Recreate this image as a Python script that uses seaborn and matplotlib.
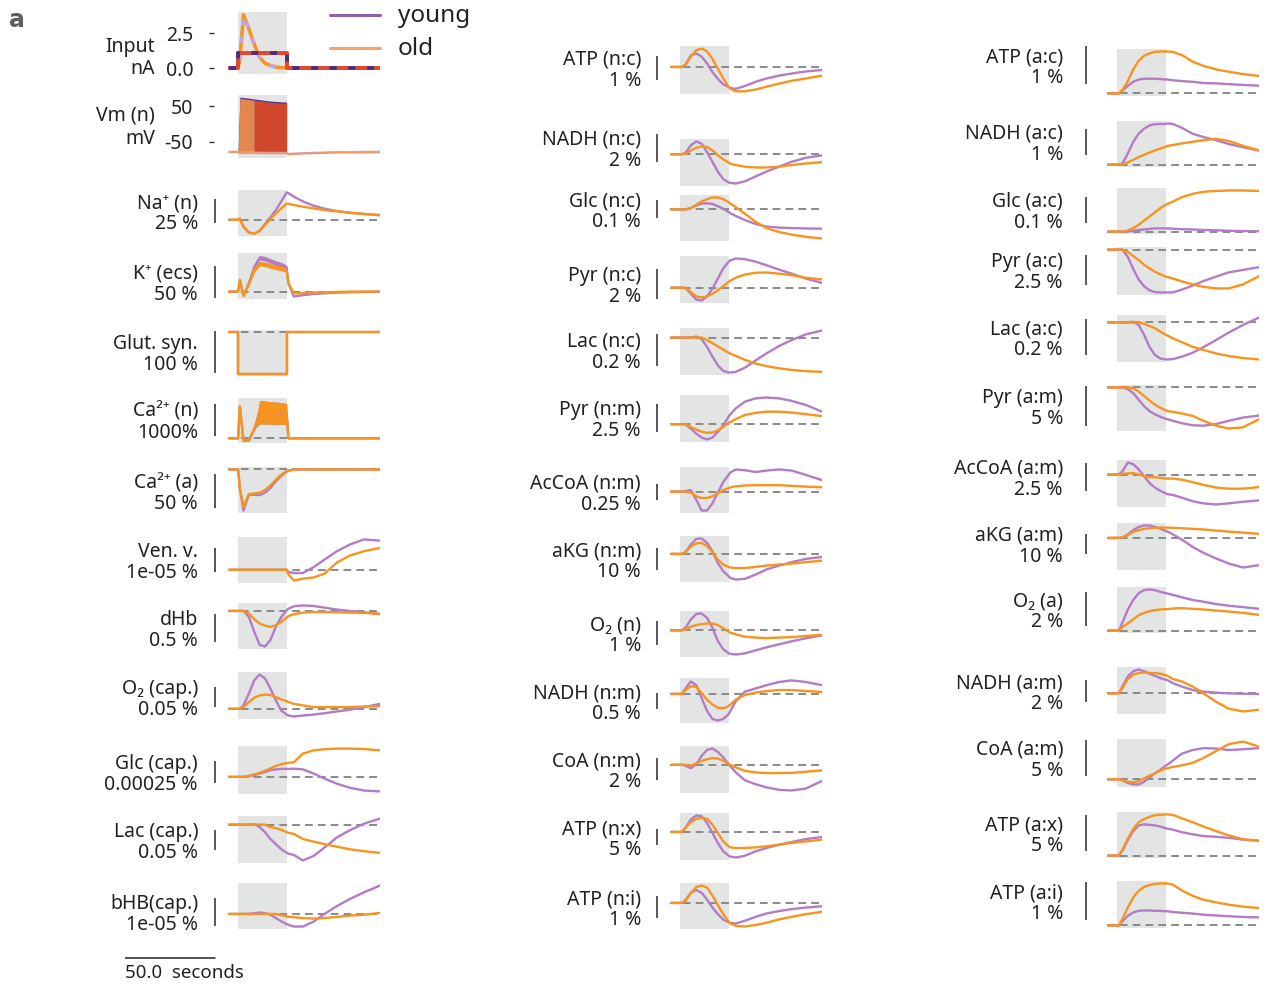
import matplotlib
matplotlib.use("Agg")
import matplotlib.pyplot as plt
import matplotlib.transforms as mtransforms
from matplotlib.lines import Line2D
import seaborn as sns

sns.set_theme(style="white")
plt.rcParams["font.family"] = ["Noto Sans", "DejaVu Sans"]

# ---------------------------------------------------------------- data
# time (s); stimulation window
T = [-5, 0, 1, 3, 6, 9, 12, 15, 18, 21, 24, 27, 28, 31, 36, 42, 48, 55, 62, 70, 79]
STIM = (0, 27)

# Input (nA)
input_pulse = [0, 0, 0.6, 3.8, 2.8, 1.7, 0.75, 0.35, 0.18, 0.08, 0.03, 0.01, 0, 0, 0, 0, 0, 0, 0, 0, 0]
input_step = [0, 1.1, 1.1, 1.1, 1.1, 1.1, 1.1, 1.1, 1.1, 1.1, 1.1, 0, 0, 0, 0, 0, 0, 0, 0, 0, 0]
input_ticks = [0.0, 2.5]

# Vm (mV): envelope of spiking
vm_young_hi = [-77, -77, 76, 75, 73, 71, 69, 67, 65, 64, 63, 62, -83, -82, -81, -80, -79, -78, -78, -77, -77]
vm_young_lo = [-77, -77, -80, -79, -79, -79, -80, -80, -80, -80, -80, -80, -83, -82, -81, -80, -79, -78, -78, -77, -77]
vm_old_hi = [-79, -79, 72, 71, 69, 67, 65, 63, 61, 60, 59, 58, -85, -84, -83, -82, -81, -80, -80, -80, -79]
vm_old_lo = [-79, -79, -82, -81, -81, -81, -82, -82, -82, -82, -82, -82, -85, -84, -83, -82, -81, -80, -80, -80, -79]
vm_ticks = [-50, 50]

# relative changes, in units of each panel's scale bar
na_n_young = [0, 0, 0.05, -0.29, -0.53, -0.57, -0.46, -0.18, 0.10, 0.40, 0.76, 1.13, 1.10, 0.96, 0.76, 0.58, 0.46, 0.36, 0.29, 0.24, 0.19]
na_n_old = [0, 0, 0.05, -0.29, -0.53, -0.57, -0.46, -0.21, 0.03, 0.26, 0.47, 0.67, 0.66, 0.61, 0.54, 0.47, 0.40, 0.35, 0.29, 0.24, 0.19]
k_ecs_young = [0, 0, 0.35, -0.13, 0.25, 0.75, 1.03, 1.0, 0.93, 0.87, 0.82, 0.73, 0.25, -0.15, -0.11, -0.07, -0.05, -0.03, -0.02, -0.01, 0]
k_ecs_old = [0, 0, 0.35, -0.13, 0.22, 0.65, 0.85, 0.83, 0.78, 0.74, 0.70, 0.65, 0.25, -0.05, -0.05, -0.03, -0.02, -0.01, 0, 0, 0]
k_ecs_band = [0, 0, 0, 0, 0.02, 0.06, 0.07, 0.07, 0.07, 0.07, 0.07, 0.07, 0, 0, 0, 0, 0, 0, 0, 0, 0]
glut_young = [0, -1, -1, -1, -1, -1, -1, -1, -1, -1, -1, 0, 0, 0, 0, 0, 0, 0, 0, 0, 0]
glut_old = [0, -1, -1, -1, -1, -1, -1, -1, -1, -1, -1, 0, 0, 0, 0, 0, 0, 0, 0, 0, 0]
ca_n_young = [0, 0, 1.0, -0.07, -0.07, 0.28, 0.82, 0.81, 0.80, 0.79, 0.78, 0.76, 0, 0, 0, 0, 0, 0, 0, 0, 0]
ca_n_old = [0, 0, 1.0, -0.07, -0.06, 0.30, 0.82, 0.81, 0.80, 0.79, 0.78, 0.76, 0, 0, 0, 0, 0, 0, 0, 0, 0]
ca_n_band = [0, 0, 0, 0, 0, 0, 0.37, 0.36, 0.35, 0.35, 0.34, 0.33, 0, 0, 0, 0, 0, 0, 0, 0, 0]
ca_a_young = [0, 0, -0.55, -1.2, -0.74, -0.74, -0.75, -0.68, -0.54, -0.35, -0.19, -0.06, -0.04, 0, 0, 0, 0, 0, 0, 0, 0]
ca_a_old = [0, 0, -0.55, -1.1, -0.72, -0.70, -0.68, -0.60, -0.47, -0.30, -0.15, -0.05, -0.03, 0, 0, 0, 0, 0, 0, 0, 0]
venv_young = [0, 0, 0, 0, 0, 0, 0, 0, 0, 0, 0, 0, -0.10, -0.14, -0.14, 0.11, 0.43, 0.79, 1.07, 1.29, 1.24]
venv_old = [0, 0, 0, 0, 0, 0, 0, 0, 0, 0, 0, 0, -0.2, -0.46, -0.38, -0.33, -0.17, 0.31, 0.6, 0.79, 0.93]
dhb_young = [0, 0, 0, 0, -0.22, -0.76, -1.24, -1.30, -1.06, -0.58, -0.22, 0.02, 0.08, 0.17, 0.20, 0.18, 0.12, 0.05, 0, -0.05, -0.12]
dhb_old = [0, 0, 0, 0, -0.1, -0.3, -0.46, -0.54, -0.58, -0.52, -0.40, -0.24, -0.19, -0.12, -0.06, -0.04, -0.04, -0.05, -0.06, -0.07, -0.1]
o2_cap_young = [0, 0, 0, 0.18, 0.79, 1.49, 1.79, 1.58, 1.05, 0.44, -0.09, -0.30, -0.35, -0.40, -0.35, -0.30, -0.23, -0.14, -0.05, 0.09, 0.26]
o2_cap_old = [0, 0, 0, 0.09, 0.35, 0.58, 0.70, 0.74, 0.72, 0.61, 0.49, 0.40, 0.35, 0.26, 0.18, 0.09, 0.09, 0.09, 0.09, 0.12, 0.14]
glc_cap_young = [0, 0, 0, 0, 0.03, 0.08, 0.15, 0.22, 0.30, 0.34, 0.36, 0.36, 0.36, 0.37, 0.34, 0.15, -0.08, -0.31, -0.49, -0.62, -0.66]
glc_cap_old = [0, 0, 0, 0, 0.05, 0.11, 0.18, 0.28, 0.38, 0.49, 0.58, 0.62, 0.63, 0.66, 1.05, 1.2, 1.25, 1.28, 1.28, 1.26, 1.2]
lac_cap_young = [0, 0, 0, 0, 0, 0.03, -0.12, -0.37, -0.70, -0.95, -1.2, -1.37, -1.42, -1.48, -1.75, -1.53, -1.12, -0.62, -0.28, 0.05, 0.30]
lac_cap_old = [0, 0, 0, 0, 0, 0, 0, 0, -0.12, -0.17, -0.25, -0.37, -0.40, -0.45, -0.70, -0.83, -0.95, -1.08, -1.2, -1.3, -1.38]
bhb_cap_young = [0, 0, 0, 0, 0, 0.03, 0.05, 0.03, -0.03, -0.15, -0.27, -0.37, -0.40, -0.46, -0.46, -0.28, 0.0, 0.29, 0.54, 0.79, 1.04]
bhb_cap_old = [0, 0, 0, 0, 0, 0, 0, 0, 0, 0, -0.04, -0.09, -0.1, -0.12, -0.15, -0.17, -0.15, -0.11, -0.06, -0.03, 0.04]

atp_nc_young = [0, 0, 0, 0.10, 0.49, 0.57, 0.44, 0.15, -0.22, -0.51, -0.74, -0.85, -0.90, -0.93, -0.81, -0.63, -0.49, -0.37, -0.28, -0.19, -0.13]
atp_nc_old = [0, 0, 0, 0.07, 0.44, 0.71, 0.78, 0.66, 0.34, -0.07, -0.49, -0.84, -0.93, -1.03, -1.04, -0.96, -0.84, -0.71, -0.59, -0.49, -0.37]
nadh_nc_young = [0, 0, 0, 0.05, 0.33, 0.47, 0.39, 0.08, -0.28, -0.64, -0.92, -1.04, -1.06, -1.08, -1.0, -0.82, -0.64, -0.46, -0.28, -0.13, -0.04]
nadh_nc_old = [0, 0, 0, 0.02, 0.14, 0.24, 0.29, 0.27, 0.14, -0.04, -0.19, -0.31, -0.35, -0.40, -0.46, -0.49, -0.49, -0.46, -0.40, -0.34, -0.29]
glc_nc_young = [0, 0, 0, 0, 0.08, 0.23, 0.34, 0.36, 0.32, 0.19, 0.04, -0.15, -0.23, -0.38, -0.62, -0.85, -1.0, -1.06, -1.09, -1.11, -1.13]
glc_nc_old = [0, 0, 0, 0, 0.08, 0.28, 0.47, 0.6, 0.7, 0.7, 0.6, 0.42, 0.34, 0.13, -0.25, -0.72, -1.09, -1.32, -1.47, -1.6, -1.7]
pyr_nc_young = [0, 0, 0, -0.01, -0.21, -0.41, -0.44, -0.30, -0.03, 0.31, 0.66, 0.89, 0.94, 1.0, 0.98, 0.89, 0.77, 0.62, 0.48, 0.31, 0.16]
pyr_nc_old = [0, 0, 0, 0, -0.15, -0.30, -0.34, -0.30, -0.21, -0.09, 0.05, 0.2, 0.24, 0.34, 0.45, 0.51, 0.52, 0.48, 0.43, 0.34, 0.28]
lac_nc_young = [0, 0, 0, 0, 0, 0.03, -0.05, -0.30, -0.60, -0.88, -1.05, -1.10, -1.10, -1.08, -0.95, -0.72, -0.50, -0.27, -0.08, 0.10, 0.22]
lac_nc_old = [0, 0, 0, 0, 0, 0, 0, -0.08, -0.18, -0.28, -0.38, -0.48, -0.51, -0.58, -0.70, -0.82, -0.90, -0.97, -1.02, -1.06, -1.08]
pyr_nm_young = [0, 0, 0, 0, -0.16, -0.34, -0.48, -0.55, -0.48, -0.28, -0.04, 0.27, 0.36, 0.57, 0.81, 0.93, 0.96, 0.93, 0.84, 0.69, 0.45]
pyr_nm_old = [0, 0, 0, 0, -0.10, -0.19, -0.27, -0.31, -0.30, -0.22, -0.10, 0.05, 0.08, 0.18, 0.33, 0.41, 0.45, 0.45, 0.42, 0.36, 0.29]
accoa_nm_young = [0, 0, 0, 0.04, 0.09, -0.51, -1.18, -1.18, -0.73, -0.07, 0.6, 1.04, 1.2, 1.38, 1.33, 1.22, 1.31, 1.38, 1.31, 1.04, 0.71]
accoa_nm_old = [0, 0, 0, 0, -0.07, -0.29, -0.4, -0.4, -0.29, -0.11, 0.09, 0.22, 0.27, 0.33, 0.38, 0.40, 0.40, 0.40, 0.36, 0.31, 0.27]
akg_nm_young = [0, 0, 0, 0.08, 0.43, 0.69, 0.71, 0.51, 0.12, -0.42, -0.80, -1.03, -1.11, -1.18, -1.15, -0.95, -0.72, -0.54, -0.38, -0.23, -0.14]
akg_nm_old = [0, 0, 0, 0.08, 0.35, 0.48, 0.51, 0.35, 0.08, -0.26, -0.49, -0.60, -0.63, -0.65, -0.65, -0.60, -0.54, -0.49, -0.45, -0.38, -0.31]
o2_n_young = [0, 0, 0, 0.11, 0.47, 0.71, 0.73, 0.54, 0.11, -0.46, -0.81, -0.99, -1.01, -1.04, -0.99, -0.86, -0.73, -0.60, -0.47, -0.34, -0.21]
o2_n_old = [0, 0, 0, 0.04, 0.16, 0.23, 0.27, 0.3, 0.3, 0.23, 0.09, -0.06, -0.10, -0.17, -0.27, -0.31, -0.33, -0.31, -0.29, -0.24, -0.19]
nadh_nm_young = [0, 0, 0, 0.34, 0.78, 0.54, -0.26, -1.06, -1.56, -1.66, -1.56, -1.26, -1.06, -0.46, 0.14, 0.34, 0.54, 0.74, 0.84, 0.74, 0.54]
nadh_nm_old = [0, 0, 0, 0.24, 0.48, 0.44, 0.04, -0.36, -0.66, -0.86, -0.90, -0.76, -0.66, -0.36, -0.06, 0.08, 0.18, 0.24, 0.24, 0.18, 0.12]
coa_nm_young = [0, 0, 0, -0.04, -0.15, 0.03, 0.40, 0.67, 0.73, 0.58, 0.33, 0.03, -0.07, -0.34, -0.69, -0.87, -1.01, -1.12, -1.15, -1.06, -0.72]
coa_nm_old = [0, 0, 0, 0, -0.04, 0.06, 0.18, 0.25, 0.30, 0.28, 0.18, 0.03, -0.01, -0.12, -0.27, -0.34, -0.37, -0.37, -0.36, -0.31, -0.25]
atp_nx_young = [0, 0, 0, 0.26, 0.79, 1.04, 1.0, 0.57, -0.06, -0.70, -1.23, -1.51, -1.57, -1.62, -1.51, -1.23, -1.02, -0.81, -0.64, -0.45, -0.32]
atp_nx_old = [0, 0, 0, 0.26, 0.62, 0.83, 0.89, 0.83, 0.47, -0.06, -0.60, -0.91, -0.98, -1.02, -1.02, -0.98, -0.91, -0.81, -0.70, -0.60, -0.49]
atp_ni_young = [0, 0, 0, 0.12, 0.46, 0.58, 0.46, 0.15, -0.21, -0.51, -0.75, -0.88, -0.91, -0.93, -0.81, -0.63, -0.48, -0.37, -0.28, -0.21, -0.15]
atp_ni_old = [0, 0, 0, 0.09, 0.45, 0.72, 0.79, 0.69, 0.34, -0.10, -0.51, -0.85, -0.93, -1.04, -1.07, -1.0, -0.90, -0.75, -0.63, -0.51, -0.40]

atp_ac_young = [0, 0, 0, 0.07, 0.20, 0.30, 0.36, 0.38, 0.38, 0.38, 0.37, 0.36, 0.36, 0.34, 0.32, 0.30, 0.27, 0.26, 0.24, 0.22, 0.20]
atp_ac_old = [0, 0, 0, 0.09, 0.32, 0.62, 0.84, 0.97, 1.03, 1.07, 1.08, 1.08, 1.08, 1.07, 0.99, 0.82, 0.71, 0.62, 0.56, 0.50, 0.45]
nadh_ac_young = [0, 0, 0, 0.04, 0.45, 0.91, 1.23, 1.43, 1.56, 1.61, 1.62, 1.62, 1.64, 1.62, 1.47, 1.23, 1.10, 0.97, 0.82, 0.69, 0.56]
nadh_ac_old = [0, 0, 0, 0, 0.09, 0.19, 0.30, 0.39, 0.48, 0.56, 0.64, 0.71, 0.74, 0.78, 0.84, 0.91, 0.97, 1.03, 0.94, 0.75, 0.56]
glc_ac_young = [0, 0, 0, 0, 0, 0.03, 0.06, 0.08, 0.10, 0.12, 0.12, 0.12, 0.12, 0.11, 0.09, 0.08, 0.06, 0.05, 0.03, 0.02, 0.01]
glc_ac_old = [0, 0, 0, 0, 0.04, 0.13, 0.26, 0.42, 0.58, 0.74, 0.90, 1.03, 1.06, 1.15, 1.32, 1.45, 1.53, 1.56, 1.58, 1.58, 1.56]
pyr_ac_young = [0, 0, 0, 0, -0.24, -0.63, -0.97, -1.19, -1.32, -1.38, -1.39, -1.39, -1.39, -1.39, -1.30, -1.17, -1.02, -0.88, -0.74, -0.66, -0.57]
pyr_ac_old = [0, 0, 0, 0, -0.08, -0.21, -0.34, -0.49, -0.61, -0.72, -0.80, -0.88, -0.89, -0.94, -1.03, -1.13, -1.21, -1.26, -1.26, -1.13, -0.86]
lac_ac_young = [0, 0, 0, 0, 0, 0.02, -0.07, -0.35, -0.69, -0.92, -1.02, -1.05, -1.05, -1.04, -0.97, -0.86, -0.70, -0.50, -0.29, -0.07, 0.14]
lac_ac_old = [0, 0, 0, 0, 0, 0, 0, -0.04, -0.10, -0.16, -0.26, -0.35, -0.37, -0.45, -0.56, -0.69, -0.78, -0.88, -0.95, -1.01, -1.05]
pyr_am_young = [0, 0, 0, 0, -0.04, -0.14, -0.30, -0.46, -0.58, -0.66, -0.72, -0.77, -0.78, -0.82, -0.88, -0.93, -0.94, -0.90, -0.82, -0.74, -0.69]
pyr_am_old = [0, 0, 0, 0, 0, -0.02, -0.10, -0.21, -0.32, -0.42, -0.50, -0.56, -0.58, -0.60, -0.64, -0.70, -0.82, -0.94, -1.01, -0.98, -0.78]
accoa_am_young = [0, 0, 0, 0.12, 0.44, 0.38, 0.19, -0.06, -0.31, -0.48, -0.60, -0.69, -0.72, -0.75, -0.85, -0.98, -1.06, -1.10, -1.06, -1.0, -0.95]
accoa_am_old = [0, 0, 0, 0.02, 0.04, 0.05, 0, -0.06, -0.10, -0.10, -0.12, -0.15, -0.15, -0.15, -0.19, -0.28, -0.38, -0.48, -0.52, -0.52, -0.46]
akg_am_young = [0, 0, 0, 0.02, 0.17, 0.37, 0.52, 0.59, 0.59, 0.52, 0.44, 0.33, 0.30, 0.17, -0.08, -0.43, -0.71, -0.98, -1.22, -1.41, -1.30]
akg_am_old = [0, 0, 0, 0.02, 0.13, 0.29, 0.37, 0.43, 0.46, 0.48, 0.49, 0.49, 0.49, 0.48, 0.46, 0.43, 0.40, 0.35, 0.30, 0.25, 0.19]
o2_a_young = [0, 0, 0, 0.24, 0.62, 0.90, 1.10, 1.19, 1.21, 1.19, 1.14, 1.10, 1.09, 1.05, 0.98, 0.90, 0.85, 0.78, 0.73, 0.69, 0.64]
o2_a_old = [0, 0, 0, 0.10, 0.21, 0.33, 0.45, 0.52, 0.57, 0.60, 0.62, 0.63, 0.63, 0.65, 0.66, 0.64, 0.62, 0.59, 0.56, 0.52, 0.46]
nadh_am_young = [0, 0, 0, 0.31, 0.77, 1.0, 1.08, 1.0, 0.89, 0.80, 0.69, 0.62, 0.60, 0.46, 0.31, 0.15, 0.08, 0.03, 0, -0.02, -0.03]
nadh_am_old = [0, 0, 0, 0.23, 0.65, 0.85, 0.92, 0.94, 0.92, 0.92, 0.89, 0.82, 0.80, 0.65, 0.54, 0.31, 0, -0.38, -0.69, -0.82, -0.74]
coa_am_young = [0, 0, 0, -0.03, -0.10, -0.14, -0.14, -0.07, 0.05, 0.16, 0.26, 0.37, 0.40, 0.51, 0.70, 0.80, 0.85, 0.84, 0.80, 0.82, 0.85]
coa_am_old = [0, 0, 0, -0.02, -0.07, -0.08, -0.05, 0.02, 0.10, 0.16, 0.24, 0.29, 0.30, 0.34, 0.38, 0.45, 0.58, 0.77, 0.96, 1.03, 0.89]
atp_ax_young = [0, 0, 0, 0.14, 0.44, 0.69, 0.85, 0.88, 0.87, 0.85, 0.82, 0.77, 0.76, 0.73, 0.66, 0.60, 0.55, 0.53, 0.50, 0.45, 0.42]
atp_ax_old = [0, 0, 0, 0.16, 0.48, 0.75, 0.94, 1.03, 1.09, 1.14, 1.15, 1.16, 1.16, 1.15, 1.05, 0.94, 0.82, 0.69, 0.57, 0.46, 0.41]
atp_ai_young = [0, 0, 0, 0.11, 0.25, 0.34, 0.38, 0.39, 0.39, 0.38, 0.38, 0.37, 0.37, 0.35, 0.33, 0.31, 0.28, 0.26, 0.24, 0.22, 0.21]
atp_ai_old = [0, 0, 0, 0.17, 0.47, 0.73, 0.90, 1.0, 1.05, 1.08, 1.09, 1.09, 1.09, 1.06, 0.91, 0.77, 0.67, 0.60, 0.54, 0.49, 0.45]

# panel names and scale-bar labels
col1_names = ["Na⁺ (n)", "K⁺ (ecs)", "Glut. syn.", "Ca²⁺ (n)", "Ca²⁺ (a)", "Ven. v.", "dHb",
              "O₂ (cap.)", "Glc (cap.)", "Lac (cap.)", "bHB(cap.)"]
col1_scales = ["25 %", "50 %", "100 %", "1000%", "50 %", "1e-05 %", "0.5 %", "0.05 %",
               "0.00025 %", "0.05 %", "1e-05 %"]
col2_names = ["ATP (n:c)", "NADH (n:c)", "Glc (n:c)", "Pyr (n:c)", "Lac (n:c)", "Pyr (n:m)",
              "AcCoA (n:m)", "aKG (n:m)", "O₂ (n)", "NADH (n:m)", "CoA (n:m)", "ATP (n:x)", "ATP (n:i)"]
col2_scales = ["1 %", "2 %", "0.1 %", "2 %", "0.2 %", "2.5 %", "0.25 %", "10 %", "1 %", "0.5 %",
               "2 %", "5 %", "1 %"]
col3_names = ["ATP (a:c)", "NADH (a:c)", "Glc (a:c)", "Pyr (a:c)", "Lac (a:c)", "Pyr (a:m)",
              "AcCoA (a:m)", "aKG (a:m)", "O₂ (a)", "NADH (a:m)", "CoA (a:m)", "ATP (a:x)", "ATP (a:i)"]
col3_scales = ["1 %", "1 %", "0.1 %", "2.5 %", "0.2 %", "5 %", "2.5 %", "10 %", "2 %", "2 %",
               "5 %", "5 %", "1 %"]

col1_young = [na_n_young, k_ecs_young, glut_young, ca_n_young, ca_a_young, venv_young, dhb_young,
              o2_cap_young, glc_cap_young, lac_cap_young, bhb_cap_young]
col1_old = [na_n_old, k_ecs_old, glut_old, ca_n_old, ca_a_old, venv_old, dhb_old,
            o2_cap_old, glc_cap_old, lac_cap_old, bhb_cap_old]
col2_young = [atp_nc_young, nadh_nc_young, glc_nc_young, pyr_nc_young, lac_nc_young, pyr_nm_young,
              accoa_nm_young, akg_nm_young, o2_n_young, nadh_nm_young, coa_nm_young, atp_nx_young, atp_ni_young]
col2_old = [atp_nc_old, nadh_nc_old, glc_nc_old, pyr_nc_old, lac_nc_old, pyr_nm_old,
            accoa_nm_old, akg_nm_old, o2_n_old, nadh_nm_old, coa_nm_old, atp_nx_old, atp_ni_old]
col3_young = [atp_ac_young, nadh_ac_young, glc_ac_young, pyr_ac_young, lac_ac_young, pyr_am_young,
              accoa_am_young, akg_am_young, o2_a_young, nadh_am_young, coa_am_young, atp_ax_young, atp_ai_young]
col3_old = [atp_ac_old, nadh_ac_old, glc_ac_old, pyr_ac_old, lac_ac_old, pyr_am_old,
            accoa_am_old, akg_am_old, o2_a_old, nadh_am_old, coa_am_old, atp_ax_old, atp_ai_old]
bands = {"K⁺ (ecs)": k_ecs_band, "Ca²⁺ (n)": ca_n_band}
step_panels = {"Glut. syn."}

# ---------------------------------------------------------------- layout / style
W, H = 1271, 985
XLIM = (-5.6, 78.9)
PURPLE = "#b47bc6"
ORANGE = "#f7941d"
SHADE = "#e3e4e4"
DASH = "#8a8a8a"
BARC = "#4a4a4a"
TXT = "#222222"
FS = 14

layout = [
    dict(x0=228, x1=380, bar_x=215, text_x=198,
         boxes=[(190, 236), (253, 299), (330, 376), (398, 443), (467, 513), (537, 583), (603, 649),
                (672, 719), (746, 794), (816, 863), (883, 929)],
         bars=[211, 282, 352, 420, 491, 560, 628, 697, 772, 840, 912]),
    dict(x0=670, x1=822, bar_x=657, text_x=641,
         boxes=[(46, 94), (139, 186), (195, 241), (256, 303), (328, 375), (395, 442), (467, 513),
                (536, 582), (611, 657), (678, 723), (746, 793), (813, 860), (883, 929)],
         bars=[68, 148, 209, 284, 350, 418, 492, 559, 633, 701, 769, 837, 907]),
    dict(x0=1107, x1=1259, bar_x=1086, text_x=1063,
         boxes=[(49, 96), (121, 167), (188, 234), (247, 295), (315, 362), (385, 431), (460, 507),
                (523, 570), (587, 633), (667, 714), (739, 787), (812, 858), (881, 928)],
         bars=[65, 142, 210, 270, 337, 406, 477, 544, 609, 691, 758, 833, 901]),
]
columns = [(col1_names, col1_scales, col1_young, col1_old),
           (col2_names, col2_scales, col2_young, col2_old),
           (col3_names, col3_scales, col3_young, col3_old)]

fig = plt.figure(figsize=(W / 100, H / 100), dpi=100)


def rect(x0, x1, yt, yb):
    return [x0 / W, 1 - yb / H, (x1 - x0) / W, (yb - yt) / H]


def line(ax, y, color, lw=1.7, **kw):
    sns.lineplot(x=T, y=y, ax=ax, color=color, linewidth=lw, errorbar=None,
                 sort=False, legend=False, **kw)


def trace_panel(name, scale, young, old, lay, box, bar_c):
    yt, yb = box
    ax = fig.add_axes(rect(lay["x0"], lay["x1"], yt, yb))
    ax.set_xlim(XLIM)
    ax.axvspan(*STIM, color=SHADE, lw=0, zorder=0)
    ax.axhline(0, color=DASH, lw=1.4, ls=(0, (4, 2.6)), zorder=1)
    band = bands.get(name)
    ds = "steps-post" if name in step_panels else "default"
    vals = [0.0]
    for series, color in ((young, PURPLE), (old, ORANGE)):
        if band is not None:
            lo = [v - b for v, b in zip(series, band)]
            hi = [v + b for v, b in zip(series, band)]
            ax.fill_between(T, lo, hi, color=color, lw=0, zorder=2)
            vals += lo + hi
        line(ax, series, color, zorder=3, drawstyle=ds)
        vals += list(series)
    lo_v, hi_v = min(vals), max(vals)
    pad = 0.06 * (hi_v - lo_v)
    y0, y1 = lo_v - pad, hi_v + pad
    ax.set_ylim(y0, y1)
    ax.axis("off")
    # scale bar: one unit long
    c = y0 + (yb - bar_c) / (yb - yt) * (y1 - y0)
    trans = mtransforms.blended_transform_factory(ax.transAxes, ax.transData)
    xb = (lay["bar_x"] - lay["x0"]) / (lay["x1"] - lay["x0"])
    ax.plot([xb, xb], [c - 0.5, c + 0.5], transform=trans, color=BARC, lw=1.3,
            clip_on=False, solid_capstyle="butt")
    fig.text(lay["text_x"] / W, 1 - (bar_c - 3) / H, name, ha="right", va="baseline",
             fontsize=FS, color=TXT)
    fig.text(lay["text_x"] / W, 1 - (bar_c + 18) / H, scale, ha="right", va="baseline",
             fontsize=FS, color=TXT)
    return ax


for (names, scales, ys, os_), lay in zip(columns, layout):
    for i, name in enumerate(names):
        trace_panel(name, scales[i], ys[i], os_[i], lay, lay["boxes"][i], lay["bars"][i])


def tick_axes(ax):
    for s in ax.spines.values():
        s.set_visible(False)
    ax.spines["left"].set_position(("outward", 10))
    ax.set_xticks([])
    ax.tick_params(axis="y", left=True, length=3.6, width=1.0, color="#333333",
                   pad=11.5, labelsize=FS, labelcolor=TXT)
    ax.patch.set_visible(False)
    ax.grid(False)


# Input panel
ax_in = fig.add_axes(rect(228, 380, 12, 74))
ax_in.set_xlim(XLIM)
ax_in.set_ylim(-0.42, 4.0)
ax_in.axvspan(*STIM, color=SHADE, lw=0, zorder=0)
line(ax_in, input_pulse, ORANGE, lw=2.6, zorder=2)
line(ax_in, input_pulse, "#c9a2d8", lw=2.6, zorder=2.1, linestyle=(0, (1.8, 3)))
line(ax_in, input_step, "#e2472b", lw=2.8, zorder=3, drawstyle="steps-post")
line(ax_in, input_step, "#4b2c86", lw=2.8, zorder=3.1, drawstyle="steps-post", linestyle=(0, (1.8, 3)))
ax_in.set_yticks(input_ticks)
ax_in.set_yticklabels([f"{v:.1f}" for v in input_ticks])
tick_axes(ax_in)
fig.text(155 / W, 1 - 52 / H, "Input", ha="right", va="baseline", fontsize=FS, color=TXT)
fig.text(155 / W, 1 - 74 / H, "nA", ha="right", va="baseline", fontsize=FS, color=TXT)

# Vm panel
ax_vm = fig.add_axes(rect(228, 380, 95, 158))
ax_vm.set_xlim(XLIM)
ax_vm.set_ylim(-95, 82)
ax_vm.axvspan(*STIM, color=SHADE, lw=0, zorder=0)
in_stim = [STIM[0] <= t <= STIM[1] for t in T]
early = [STIM[0] <= t <= 9 for t in T]
late = [9 <= t <= STIM[1] for t in T]
ax_vm.fill_between(T, vm_young_lo, vm_young_hi, where=in_stim, color="#5a3b8e", lw=0, zorder=2)
ax_vm.fill_between(T, vm_old_lo, vm_old_hi, where=early, color="#e3874f", lw=0, zorder=3)
ax_vm.fill_between(T, vm_old_lo, vm_old_hi, where=late, color="#d0482c", lw=0, zorder=3)
line(ax_vm, vm_young_lo, "#c9a2d8", lw=1.3, zorder=4)
line(ax_vm, vm_old_lo, "#f39a5b", lw=1.3, zorder=4)
ax_vm.set_yticks(vm_ticks)
ax_vm.set_yticklabels([str(v) for v in vm_ticks])
tick_axes(ax_vm)
fig.text(155 / W, 1 - 120 / H, "Vm (n)", ha="right", va="baseline", fontsize=FS, color=TXT)
fig.text(155 / W, 1 - 144 / H, "mV", ha="right", va="baseline", fontsize=FS, color=TXT)

# legend
for ypx, col, lab in ((15, "#8e5fa9", "young"), (48, "#f7a072", "old")):
    fig.add_artist(Line2D([330 / W, 380 / W], [1 - ypx / H, 1 - ypx / H], color=col, lw=2.2))
    fig.text(398 / W, 1 - (ypx + 1) / H, lab, ha="left", va="center", fontsize=17.5, color=TXT)

# panel letter
fig.text(17 / W, 1 - 20 / H, "a", ha="center", va="center", fontsize=17, fontweight="bold",
         color="#5e5e5e", family=["DejaVu Sans"])

# time scale bar (50 s, same x scale as the panels)
ax_sb = fig.add_axes(rect(125, 277, 950, 966))
ax_sb.set_xlim(XLIM)
ax_sb.set_ylim(0, 1)
ax_sb.plot([XLIM[0], XLIM[0] + 50], [0.5, 0.5], color="#222222", lw=1.1)
ax_sb.axis("off")
fig.text(125 / W, 1 - 978 / H, "50.0  seconds", ha="left", va="baseline", fontsize=13.5, color=TXT)

fig.savefig("out.png", dpi=100)
